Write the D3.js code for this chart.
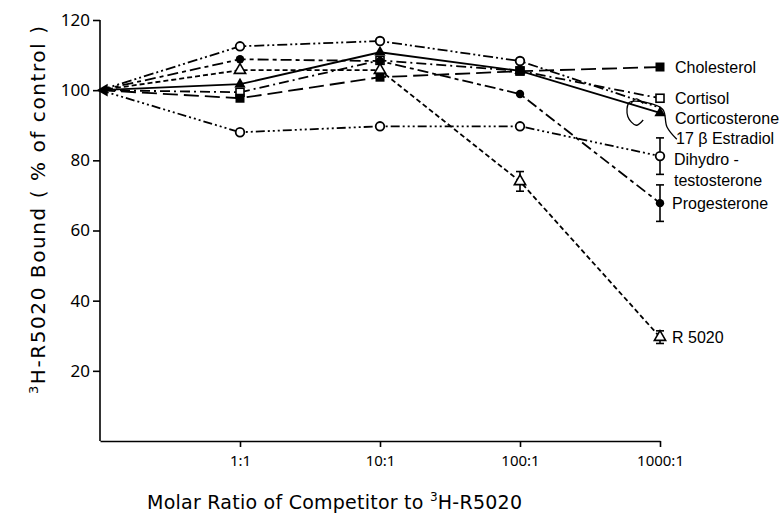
<!DOCTYPE html>
<html><head><meta charset="utf-8">
<script src="https://cdn.jsdelivr.net/npm/d3@7/dist/d3.min.js"></script>
<style>
html,body{margin:0;padding:0;background:#fff;}
svg{display:block;}
</style></head>
<body>
<svg id="chart" width="783" height="524"></svg>
<script>
// ---- data ----
const categories = ["control", "1:1", "10:1", "100:1", "1000:1"];
const xTickLabels = ["1:1", "10:1", "100:1", "1000:1"];
const yTicks = [20, 40, 60, 80, 100, 120];

const seriesNames = ["Cortisol", "17 \u03B2 Estradiol", "Dihydrotestosterone", "Progesterone", "R 5020", "Cholesterol", "Corticosterone"];
const cortisol       = [100, 99.4, 108.5, 105.5, 97.7];
const estradiol      = [100, 112.5, 114.0, 108.3, 95.0];
const dht            = [100, 88.0, 89.7, 89.7, 81.2];
const progesterone   = [100, 108.8, 108.3, 98.9, 67.8];
const r5020          = [100, 105.7, 105.7, 74.0, 29.6];
const cholesterol    = [100, 97.7, 103.7, 105.4, 106.6];
const corticosterone = [100, 101.7, 110.8, 105.5, 93.5];

// error bars: [categoryIndex, +/-]
const dhtErr = [[4, 5.2]];
const progErr = [[4, 5.2]];
const r5020Err = [[3, 2.8], [4, 1.8]];

const labelNames = ["Cholesterol", "Cortisol", "Corticosterone", "17 \u03B2 Estradiol", "Dihydro -", "testosterone", "Progesterone", "R 5020"];

// ---- setup ----
const svg = d3.select("#chart");
const x = d3.scaleLinear().domain([0, 4]).range([100, 660]);
const y = d3.scaleLinear().domain([0, 120]).range([441, 20]);

const styles = {
  "17 \u03B2 Estradiol": {dash: "10,3,2,3,2,3", marker: "circleOpen", skipLast: true},
  "Dihydrotestosterone": {dash: "9,3,2,3,2,3,2,3", marker: "circleOpen"},
  "Progesterone": {dash: "11,4,4,4", marker: "circleFilled"},
  "R 5020": {dash: "5,3", marker: "triOpen"},
  "Cortisol": {dash: "10,4,2,4", marker: "squareOpen"},
  "Cholesterol": {dash: "15,6", marker: "squareFilled"},
  "Corticosterone": {dash: null, marker: "triFilled"}
};
const valuesList = [cortisol, estradiol, dht, progesterone, r5020, cholesterol, corticosterone];

// axes
const yAxis = d3.axisLeft(y).tickValues(yTicks).tickSize(7).tickSizeOuter(0).tickPadding(3);
const gy = svg.append("g").attr("transform", `translate(${x(0)},0)`).call(yAxis);
gy.select(".domain").attr("d", `M0,${y(0)}V${y(120)}`);
gy.selectAll("path,line").attr("stroke", "#000").attr("stroke-width", 1.6);
gy.selectAll("text").attr("font-family", "'Noto Sans', sans-serif").attr("font-size", 17).attr("fill", "#000");

const xAxis = d3.axisBottom(x).tickValues([1, 2, 3, 4]).tickFormat((d, i) => xTickLabels[i]).tickSize(6).tickSizeOuter(0).tickPadding(8);
const gx = svg.append("g").attr("transform", `translate(0,${y(0)})`).call(xAxis);
gx.selectAll("path,line").attr("stroke", "#000").attr("stroke-width", 1.6);
gx.selectAll("text").attr("font-family", "'Noto Sans', sans-serif").attr("font-size", 15).attr("fill", "#000");

// axis titles
const yt = svg.append("text")
  .attr("transform", `translate(45,210) rotate(-90)`)
  .attr("text-anchor", "middle")
  .attr("textLength", 368).attr("lengthAdjust", "spacing")
  .attr("font-family", "'DejaVu Sans', sans-serif").attr("font-size", 20).attr("fill", "#000");
yt.append("tspan").attr("font-size", 13).attr("dy", -7).text("3");
yt.append("tspan").attr("dy", 7).text("H-R5020 Bound ( % of control )");

const xt = svg.append("text")
  .attr("x", 147).attr("y", 509)
  .attr("textLength", 375).attr("lengthAdjust", "spacing")
  .attr("font-family", "'DejaVu Sans', sans-serif").attr("font-size", 19).attr("fill", "#000");
xt.append("tspan").text("Molar Ratio of Competitor to ");
xt.append("tspan").attr("font-size", 12).attr("dy", -8).text("3");
xt.append("tspan").attr("dy", 8).text("H-R5020");

// lines
const line = d3.line().x((d, i) => x(i)).y(d => y(d));
const gl = svg.append("g");
seriesNames.forEach((name, si) => {
  gl.append("path").datum(valuesList[si])
    .attr("d", line).attr("fill", "none").attr("stroke", "#000")
    .attr("stroke-width", 1.8)
    .attr("stroke-dasharray", styles[name].dash);
});

// error bars
function errBars(vals, errs) {
  errs.forEach(([ci, e]) => {
    const cx = x(ci);
    const g = svg.append("g").attr("stroke", "#000").attr("stroke-width", 1.6);
    g.append("line").attr("x1", cx).attr("x2", cx).attr("y1", y(vals[ci] + e)).attr("y2", y(vals[ci] - e));
    g.append("line").attr("x1", cx - 4).attr("x2", cx + 4).attr("y1", y(vals[ci] + e)).attr("y2", y(vals[ci] + e));
    g.append("line").attr("x1", cx - 4).attr("x2", cx + 4).attr("y1", y(vals[ci] - e)).attr("y2", y(vals[ci] - e));
  });
}
errBars(dht, dhtErr);
errBars(progesterone, progErr);
errBars(r5020, r5020Err);

// markers
const tri = d3.symbol().type(d3.symbolTriangle).size(55);
function drawMarker(g, type, cx, cy) {
  if (type === "circleOpen") g.append("circle").attr("cx", cx).attr("cy", cy).attr("r", 4.3).attr("fill", "#fff").attr("stroke", "#000").attr("stroke-width", 1.8);
  else if (type === "circleFilled") g.append("circle").attr("cx", cx).attr("cy", cy).attr("r", 4.2).attr("fill", "#000");
  else if (type === "squareOpen") g.append("rect").attr("x", cx - 4).attr("y", cy - 4).attr("width", 8).attr("height", 8).attr("fill", "#fff").attr("stroke", "#000").attr("stroke-width", 1.6);
  else if (type === "squareFilled") g.append("rect").attr("x", cx - 4.5).attr("y", cy - 4.5).attr("width", 9).attr("height", 9).attr("fill", "#000");
  else if (type === "triOpen") g.append("path").attr("d", tri()).attr("transform", `translate(${cx},${cy})`).attr("fill", "#fff").attr("stroke", "#000").attr("stroke-width", 1.6);
  else if (type === "triFilled") g.append("path").attr("d", tri()).attr("transform", `translate(${cx},${cy})`).attr("fill", "#000");
}
const gm = svg.append("g");
seriesNames.forEach((name, si) => {
  const vals = valuesList[si];
  vals.forEach((v, ci) => {
    if (ci === 0) return;
    if (styles[name].skipLast && ci === vals.length - 1) return;
    drawMarker(gm, styles[name].marker, x(ci), y(v));
  });
});
// shared control point
gm.append("path").attr("d", d3.symbol().type(d3.symbolTriangle).size(70)())
  .attr("transform", `translate(${x(0) + 4},${y(100)}) rotate(-90)`).attr("fill", "#000");

// right-hand labels
const labelY = [106.5, 97.8, 92.0, 86.2, 80.3, 74.3, 67.8, 29.6];
const labelX = [675, 675, 675, 676, 674, 674, 672, 672];
const gt = svg.append("g").attr("font-family", "'Liberation Sans', Arial, sans-serif").attr("font-size", 16).attr("fill", "#000");
labelNames.forEach((t, i) => {
  gt.append("text").attr("x", labelX[i]).attr("y", y(labelY[i])).attr("dy", "0.36em").text(t);
});

// leader for 17 beta Estradiol (in data coordinates)
const leader = [[4.12, 86.0], [4.05, 89.5], [4.02, 94.5], [3.9, 96.5], [3.78, 96.5], [3.77, 92.5], [3.83, 90.0], [3.88, 91.5]];
svg.append("path").datum(leader)
  .attr("d", d3.line().x(d => x(d[0])).y(d => y(d[1])).curve(d3.curveCatmullRom))
  .attr("fill", "none").attr("stroke", "#000").attr("stroke-width", 1.3);
const leader2 = [[3.79, 96.0], [3.83, 97.5], [3.88, 96.2]];
svg.append("path").datum(leader2)
  .attr("d", d3.line().x(d => x(d[0])).y(d => y(d[1])).curve(d3.curveCatmullRom))
  .attr("fill", "none").attr("stroke", "#000").attr("stroke-width", 1.3);
</script>
</body></html>
